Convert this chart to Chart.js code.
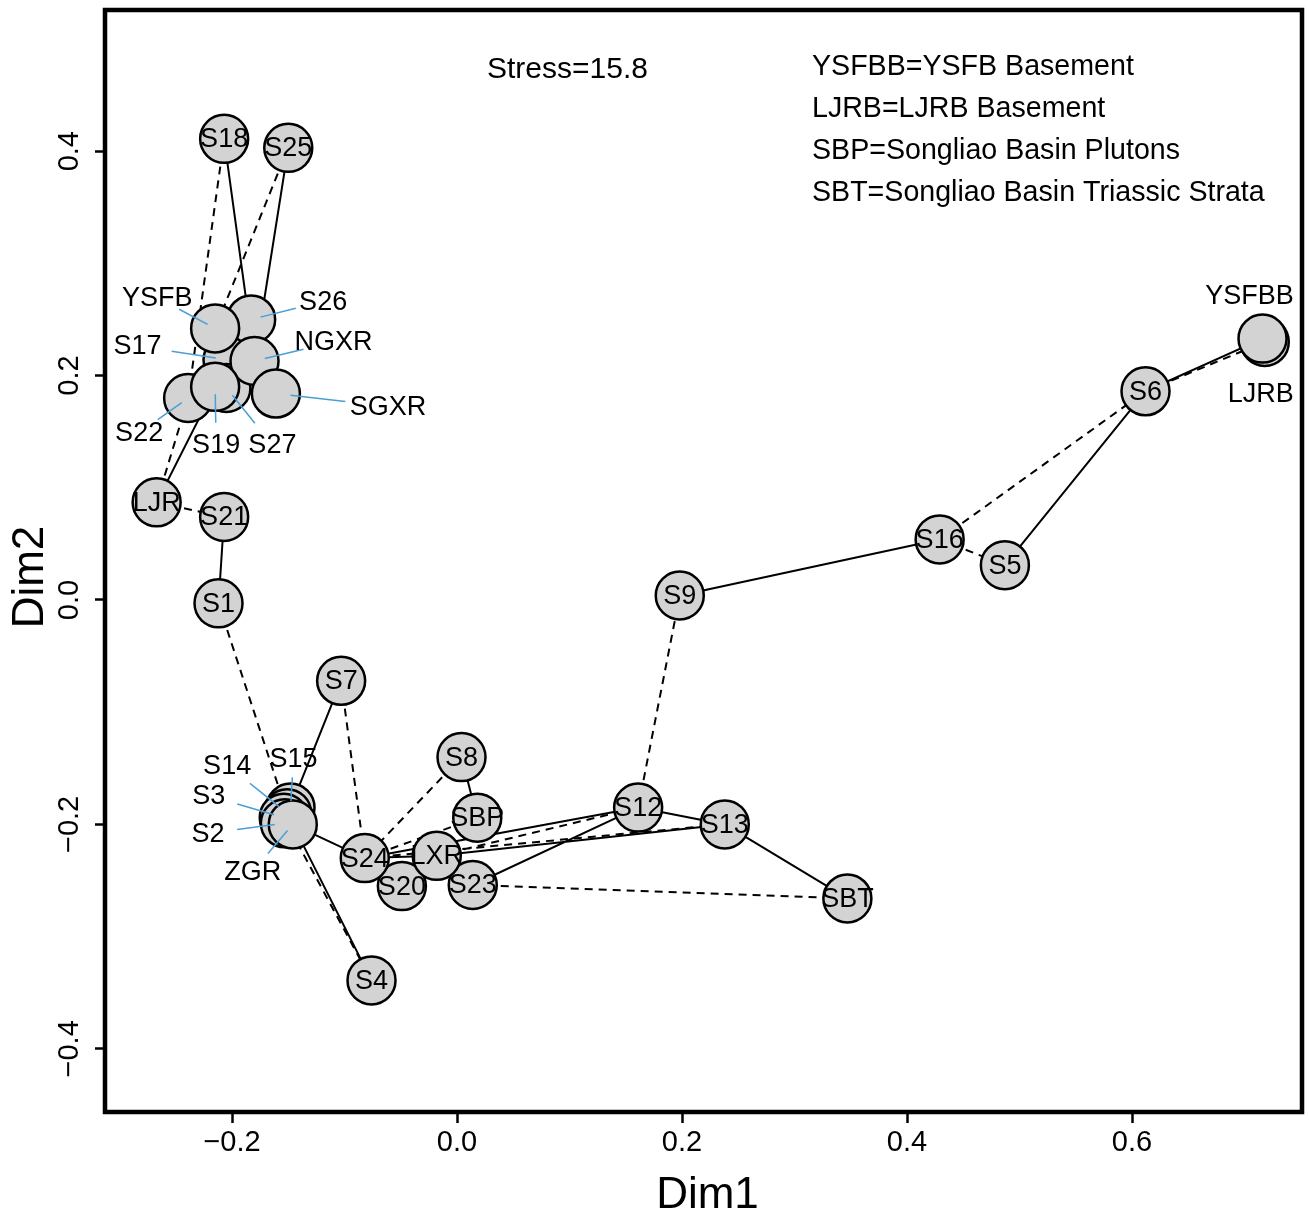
<!DOCTYPE html>
<html>
<head>
<meta charset="utf-8">
<script src="https://cdn.jsdelivr.net/npm/chart.js@4.4.1/dist/chart.umd.min.js"></script>
<style>
  html, body { margin: 0; padding: 0; background: #fff; }
</style>
</head>
<body>
<canvas id="mds" width="1309" height="1218"></canvas>
<script>
// sample names in drawing order (later ones sit on top)
const samples = ["S17", "S27", "S26", "S22", "NGXR", "SGXR", "YSFB", "S19", "S18", "S25",
  "LJR", "S21", "S1", "S7", "S15", "S14", "S3", "S2", "ZGR", "S4",
  "S8", "SBP", "S20", "S23", "S24", "LXR", "S12", "S13", "SBT", "S9",
  "S16", "S5", "S6", "LJRB", "YSFBB"];
const dim1 = [-0.204, -0.205, -0.183, -0.239, -0.180, -0.161, -0.215, -0.215, -0.207, -0.150,
  -0.267, -0.207, -0.212, -0.103, -0.148, -0.151, -0.154, -0.153, -0.146, -0.076,
  0.004, 0.018, -0.049, 0.014, -0.082, -0.018, 0.161, 0.238, 0.347, 0.198,
  0.429, 0.487, 0.612, 0.718, 0.716];
const dim2 = [0.214, 0.189, 0.250, 0.180, 0.213, 0.184, 0.242, 0.190, 0.411, 0.403,
  0.087, 0.074, -0.003, -0.072, -0.185, -0.190, -0.194, -0.199, -0.200, -0.339,
  -0.140, -0.194, -0.255, -0.254, -0.230, -0.228, -0.185, -0.200, -0.266, 0.004,
  0.054, 0.031, 0.186, 0.230, 0.233];

// nearest neighbour (solid) and second nearest (dashed) links
const solidLinks = [["S18", "NGXR"], ["S25", "NGXR"], ["LJR", "S19"], ["S21", "S1"],
  ["S7", "S15"], ["ZGR", "S24"], ["ZGR", "S4"], ["S8", "SBP"], ["S24", "S12"],
  ["LXR", "S13"], ["S23", "S12"], ["S12", "S13"], ["S13", "SBT"], ["S24", "LXR"],
  ["S9", "S16"], ["S5", "S6"], ["S6", "YSFBB"]];
const dashedLinks = [["S18", "S22"], ["S25", "YSFB"], ["LJR", "S22"], ["LJR", "S21"],
  ["S1", "S14"], ["S7", "S24"], ["S8", "S24"], ["SBP", "S24"], ["LXR", "S12"],
  ["S24", "S13"], ["S23", "SBT"], ["S12", "S9"], ["S16", "S5"], ["S16", "S6"],
  ["S6", "LJRB"], ["S3", "S4"], ["S20", "LXR"]];

const xTicks = [-0.2, 0.0, 0.2, 0.4, 0.6];
const yTicks = [-0.4, -0.2, 0.0, 0.2, 0.4];
const stressNote = "Stress=15.8";
const legendNotes = ["YSFBB=YSFB Basement", "LJRB=LJRB Basement",
  "SBP=Songliao Basin Plutons", "SBT=Songliao Basin Triassic Strata"];

// labels moved off the crowded circles, offset in pixels from the centre
const labelShift = {
  YSFB: [-58, -31], S26: [72, -18], S17: [-90, -14], NGXR: [79, -19], SGXR: [112, 13],
  S22: [-49, 35], S19: [1, 58], S27: [46, 57],
  S14: [-60, -48], S15: [3, -49], S3: [-75, -22], S2: [-77, 10], ZGR: [-40, 47],
  YSFBB: [-13, -43], LJRB: [-4, 52]
};
const noLeader = ["YSFBB", "LJRB"];

const FONT = "'Liberation Sans', Arial, sans-serif";
const fmt = (v) => v.toFixed(1).replace("-", "\u2212");

const pointAt = (name) => {
  const i = samples.indexOf(name);
  return { x: dim1[i], y: dim2[i] };
};
const linkData = (links) => links.flatMap(([a, b]) => [pointAt(a), pointAt(b), { x: NaN, y: NaN }]);

// keep the plot box exactly where the axes say, no label overhang padding
const fixBox = (size, key) => (s) => {
  s[key] = size;
  s.paddingTop = 0; s.paddingBottom = 0; s.paddingLeft = 0; s.paddingRight = 0;
};

const decor = {
  id: "decor",
  afterDatasetsDraw(chart) {
    const ctx = chart.ctx;
    const xs = chart.scales.x, ys = chart.scales.y;
    ctx.save();
    // leader lines
    ctx.strokeStyle = "#4a9fd4";
    ctx.lineWidth = 1.5;
    samples.forEach((name, i) => {
      const off = labelShift[name];
      if (!off || noLeader.includes(name)) return;
      const px = xs.getPixelForValue(dim1[i]), py = ys.getPixelForValue(dim2[i]);
      ctx.beginPath();
      ctx.moveTo(px + off[0] * 0.62, py + off[1] * 0.62);
      ctx.lineTo(px + off[0] * 0.13, py + off[1] * 0.13);
      ctx.stroke();
    });
    // sample labels
    ctx.fillStyle = "#000";
    ctx.font = "27px " + FONT;
    ctx.textAlign = "center";
    ctx.textBaseline = "middle";
    samples.forEach((name, i) => {
      const off = labelShift[name] || [0, 0];
      const px = xs.getPixelForValue(dim1[i]), py = ys.getPixelForValue(dim2[i]);
      ctx.fillText(name, px + off[0], py + off[1] + 1);
    });
    ctx.restore();
  },
  afterDraw(chart) {
    const ctx = chart.ctx;
    const a = chart.chartArea;
    const ys = chart.scales.y;
    ctx.save();
    ctx.strokeStyle = "#000";
    ctx.lineWidth = 4.5;
    ctx.strokeRect(a.left, a.top, a.right - a.left, a.bottom - a.top);

    ctx.fillStyle = "#000";
    ctx.textAlign = "center";
    ctx.textBaseline = "middle";
    // y tick labels, rotated like R
    ctx.font = "29px " + FONT;
    yTicks.forEach((v) => {
      ctx.save();
      ctx.translate(a.left - 35, ys.getPixelForValue(v));
      ctx.rotate(-Math.PI / 2);
      ctx.fillText(fmt(v), 0, 0);
      ctx.restore();
    });
    // axis titles
    ctx.font = "44px " + FONT;
    ctx.fillText("Dim1", (a.left + a.right) / 2 + 4, a.bottom + 84);
    ctx.save();
    ctx.translate(a.left - 74, (a.top + a.bottom) / 2 + 16);
    ctx.rotate(-Math.PI / 2);
    ctx.fillText("Dim2", 0, 0);
    ctx.restore();
    // notes
    ctx.textAlign = "left";
    ctx.font = "30px " + FONT;
    ctx.fillText(stressNote, a.left + 382, a.top + 60);
    ctx.font = "28.6px " + FONT;
    legendNotes.forEach((t, i) => ctx.fillText(t, a.left + 707, a.top + 57 + i * 42));
    ctx.restore();
  }
};

new Chart(document.getElementById("mds"), {
  type: "scatter",
  data: {
    datasets: [
      {
        label: "samples",
        data: samples.map((s, i) => ({ x: dim1[i], y: dim2[i] })),
        pointRadius: 24,
        pointHoverRadius: 24,
        pointBackgroundColor: "#d3d3d3",
        pointBorderColor: "#000",
        pointBorderWidth: 2.5,
        order: 0
      },
      {
        type: "line",
        label: "nearest",
        data: linkData(solidLinks),
        borderColor: "#000",
        borderWidth: 2,
        pointRadius: 0,
        spanGaps: false,
        order: 1
      },
      {
        type: "line",
        label: "second nearest",
        data: linkData(dashedLinks),
        borderColor: "#000",
        borderWidth: 2,
        borderDash: [8, 6],
        pointRadius: 0,
        spanGaps: false,
        order: 2
      }
    ]
  },
  options: {
    responsive: false,
    devicePixelRatio: 1,
    animation: false,
    events: [],
    clip: false,
    layout: { autoPadding: false, padding: { top: 10, right: 7, left: 0, bottom: 0 } },
    plugins: { legend: { display: false }, tooltip: { enabled: false } },
    scales: {
      x: {
        type: "linear",
        min: -0.3129,
        max: 0.7511,
        afterBuildTicks: (s) => { s.ticks = xTicks.map((v) => ({ value: v })); },
        afterFit: fixBox(106, "height"),
        border: { display: false },
        grid: { drawOnChartArea: false, drawTicks: true, tickLength: 11, tickWidth: 2.5, tickColor: "#000" },
        ticks: { color: "#000", font: { family: FONT, size: 29 }, padding: 3, maxRotation: 0, autoSkip: false, callback: (v) => fmt(v) }
      },
      y: {
        type: "linear",
        min: -0.4563,
        max: 0.5258,
        afterBuildTicks: (s) => { s.ticks = yTicks.map((v) => ({ value: v })); },
        afterFit: fixBox(105, "width"),
        border: { display: false },
        grid: { drawOnChartArea: false, drawTicks: true, tickLength: 10, tickWidth: 2.5, tickColor: "#000" },
        ticks: { display: false }
      }
    }
  },
  plugins: [decor]
});
</script>
</body>
</html>
